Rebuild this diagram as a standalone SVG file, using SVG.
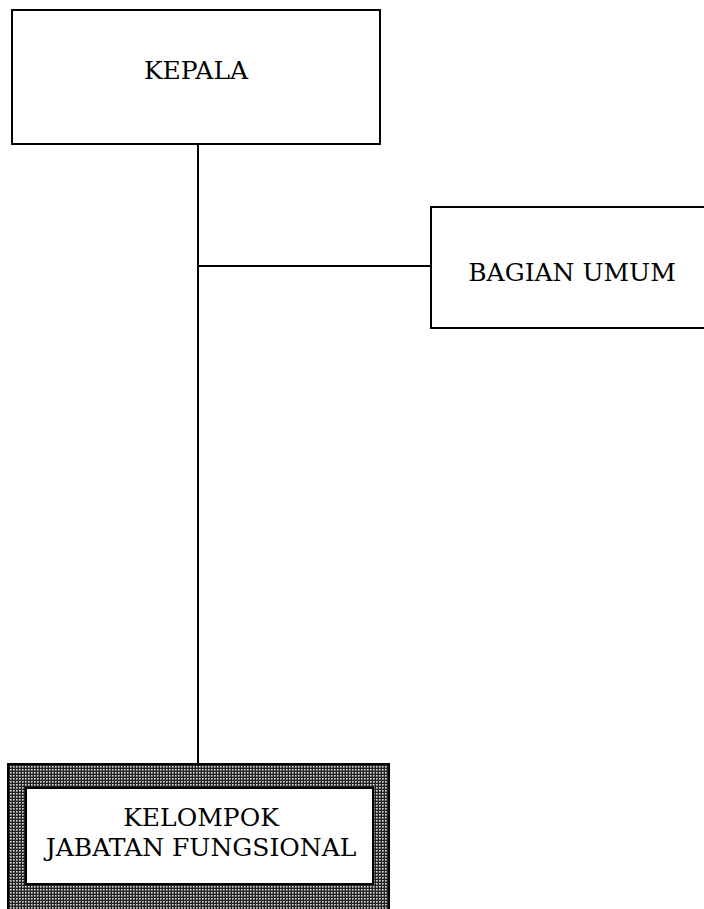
<svg xmlns="http://www.w3.org/2000/svg" width="704" height="909" viewBox="0 0 704 909">
<style>
.box{fill:#fff;stroke:#000;stroke-width:2}
.lbl{font-family:"DejaVu Serif","Liberation Serif",serif;font-size:25px;fill:#000;text-anchor:middle}
.conn{stroke:#000;stroke-width:2;fill:none}
</style>
<defs>
<pattern id="grid" width="3" height="3" patternUnits="userSpaceOnUse">
<rect width="3" height="3" fill="#222"/>
<rect x="1" y="1" width="1.6" height="1.6" fill="#ddd"/>
</pattern>
</defs>
<g id="connectors">
<line class="conn" x1="198" y1="144" x2="198" y2="765"/>
<line class="conn" x1="198" y1="266" x2="431" y2="266"/>
</g>
<g id="kepala">
<rect class="box" x="12" y="10" width="368" height="134"/>
<text class="lbl" x="196" y="79">KEPALA</text>
</g>
<g id="bagian-umum">
<rect class="box" x="431" y="207" width="290" height="121"/>
<text class="lbl" x="572" y="281">BAGIAN UMUM</text>
</g>
<g id="kelompok">
<rect x="8" y="764" width="381" height="160" fill="url(#grid)" stroke="#000" stroke-width="2"/>
<rect class="box" x="26" y="788" width="347" height="96"/>
<text class="lbl" x="201" y="826">KELOMPOK</text>
<text class="lbl" x="201" y="856">JABATAN FUNGSIONAL</text>
</g>
</svg>
